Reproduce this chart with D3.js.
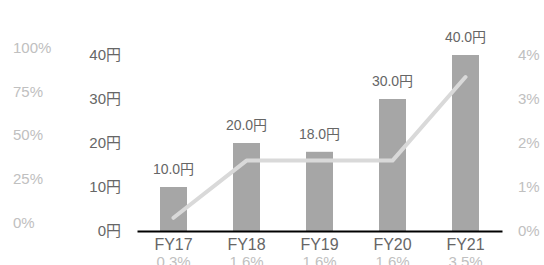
<!DOCTYPE html>
<html>
<head>
<meta charset="utf-8">
<script src="https://cdn.jsdelivr.net/npm/d3@7"></script>
<style>
  body { margin: 0; background: #fff; }
  svg { display: block; font-family: Arial, "Liberation Sans", "Noto Sans CJK JP", sans-serif; }
</style>
</head>
<body>
<div id="chart"></div>
<script>
const years = ["FY17", "FY18", "FY19", "FY20", "FY21"];
const dividends = [10, 20, 18, 30, 40];
const ratios = [0.3, 1.6, 1.6, 1.6, 3.5];
const ratioLabels = ["0.3%", "1.6%", "1.6%", "1.6%", "3.5%"];
const yenTicks = [0, 10, 20, 30, 40];
const pctTicks = [0, 1, 2, 3, 4];
const shareTicks = [0, 25, 50, 75, 100];

const width = 544, height = 265;

const svg = d3.select("#chart")
  .append("svg")
  .attr("width", width)
  .attr("height", height);

const x = d3.scaleBand()
  .domain(years)
  .range([137, 502])
  .paddingInner(0.63)
  .paddingOuter(0.315);

const y = d3.scaleLinear().domain([0, 40]).range([231, 55]);
const yRight = d3.scaleLinear().domain([0, 4]).range([231, 55]);
// leftover axis on the far left, sits a bit higher than the others
const yShare = d3.scaleLinear().domain([0, 100]).range([224, 49]);

// far left percent labels
svg.append("g")
  .selectAll("text")
  .data(shareTicks)
  .join("text")
  .attr("x", 13)
  .attr("y", d => yShare(d))
  .attr("dominant-baseline", "middle")
  .style("font-size", "15px")
  .style("fill", "#c0c0c0")
  .text(d => d + "%");

// yen axis
const yAxis = d3.axisLeft(y).tickValues(yenTicks).tickSize(0).tickPadding(0)
  .tickFormat(d => d + "円");
svg.append("g")
  .attr("transform", "translate(121,0)")
  .call(yAxis)
  .attr("font-family", null)
  .call(g => g.select(".domain").remove())
  .call(g => g.selectAll("text")
    .style("font-size", "15px")
    .attr("fill", "#666"));

// right percent axis
const yAxisRight = d3.axisRight(yRight).tickValues(pctTicks).tickSize(0).tickPadding(0)
  .tickFormat(d => d + "%");
svg.append("g")
  .attr("transform", "translate(518,0)")
  .call(yAxisRight)
  .attr("font-family", null)
  .call(g => g.select(".domain").remove())
  .call(g => g.selectAll("text")
    .style("font-size", "15px")
    .attr("fill", "#c0c0c0"));

// bars
svg.append("g")
  .selectAll("rect")
  .data(dividends)
  .join("rect")
  .attr("x", (d, i) => x(years[i]))
  .attr("y", d => y(d))
  .attr("width", x.bandwidth())
  .attr("height", d => y(0) - y(d))
  .attr("fill", "#a6a6a6");

// value labels
svg.append("g")
  .selectAll("text")
  .data(dividends)
  .join("text")
  .attr("x", (d, i) => x(years[i]) + x.bandwidth() / 2)
  .attr("y", d => y(d) - 13)
  .attr("text-anchor", "middle")
  .style("font-size", "14px")
  .style("fill", "#666")
  .text(d => d.toFixed(1) + "円");

// ratio line
const line = d3.line()
  .x((d, i) => x(years[i]) + x.bandwidth() / 2)
  .y(d => yRight(d));
svg.append("path")
  .datum(ratios)
  .attr("d", line)
  .attr("fill", "none")
  .attr("stroke", "#d9d9d9")
  .attr("stroke-width", 4)
  .attr("stroke-linecap", "round")
  .attr("stroke-linejoin", "round");

// x axis
const xAxis = d3.axisBottom(x).tickSize(0).tickPadding(8);
svg.append("g")
  .attr("transform", "translate(0,231)")
  .call(xAxis)
  .attr("font-family", null)
  .call(g => g.select(".domain").attr("stroke", "#000").attr("stroke-width", 2))
  .call(g => g.selectAll("text")
    .style("font-size", "16px")
    .attr("fill", "#666"));

// ratio labels under the years
svg.append("g")
  .selectAll("text")
  .data(ratioLabels)
  .join("text")
  .attr("x", (d, i) => x(years[i]) + x.bandwidth() / 2)
  .attr("y", 267)
  .attr("text-anchor", "middle")
  .style("font-size", "15px")
  .style("fill", "#c0c0c0")
  .text(d => d);
</script>
</body>
</html>
